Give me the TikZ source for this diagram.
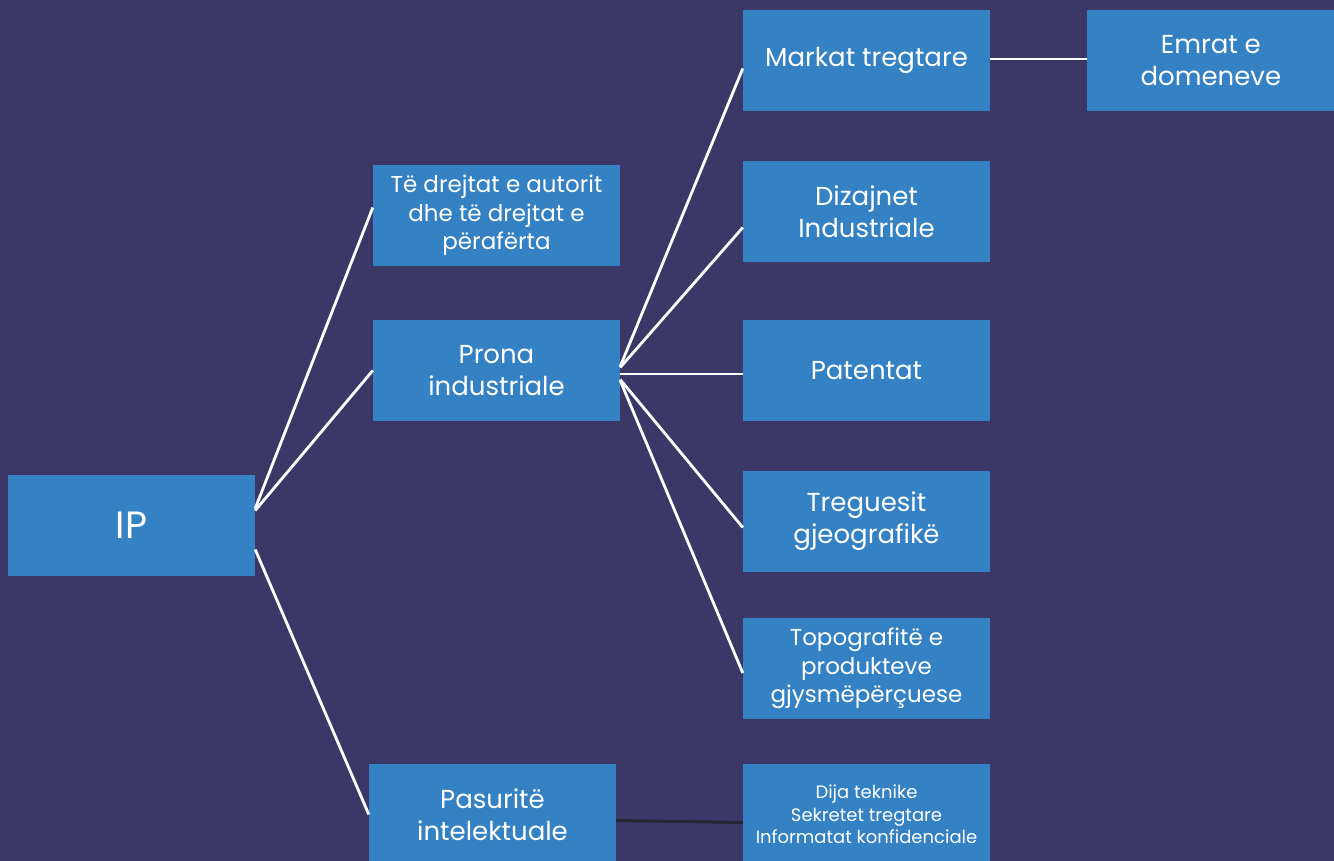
\documentclass[tikz,border=0pt]{standalone}
\usepackage{xcolor}
\usepackage{tikz}
\usepackage{fontspec}
\setmainfont{Poppins}
\usetikzlibrary{
  positioning,
  calc
}
\definecolor{ipBg}{HTML}{3B3868}
\definecolor{ipBox}{HTML}{3481C3}
\definecolor{ipDark}{HTML}{262430}
\tikzset{
  ipnode/.style={
    fill=ipBox, text=white, minimum width=247pt, minimum height=101pt,
    inner sep=0pt, align=center, font=\fontsize{26}{32}\selectfont
  },
  rootbox/.style={ipnode, font=\fontsize{38}{40}\selectfont},
  smallbox/.style={ipnode, font=\fontsize{23}{28.5}\selectfont},
  tinybox/.style={ipnode, font=\fontsize{18}{22.5}\selectfont},
  branch/.style={draw=white, line width=2.8pt},
  darkbranch/.style={draw=ipDark, line width=3pt}
}
\begin{document}
\begin{tikzpicture}[x=1pt, y=-1pt]
  \fill[ipBg] (0,0) rectangle (1334,861);
  \useasboundingbox (0,0) rectangle (1334,861);

  % left
  \node[rootbox] (ip) at (131.5,525.5) {IP};

  % middle column
  \node[smallbox] (drejtat) at (496.5,215.5) {Të drejtat e autorit\\dhe të drejtat e\\përafërta};
  \node[ipnode] (prona) at (496.5,370.5) {Prona\\industriale};
  \node[ipnode] (pasurite) at (492.5,814.5) {Pasuritë\\intelektuale};

  % right column
  \node[ipnode] (markat) at (866.5,60.5) {Markat tregtare};
  \node[ipnode, right=97pt of markat] (emrat) {Emrat e\\domeneve};
  \node[ipnode] (dizajnet) at (866.5,211.5) {Dizajnet\\Industriale};
  \node[ipnode] (patentat) at (866.5,370.5) {Patentat};
  \node[ipnode] (treguesit) at (866.5,521.5) {Treguesit\\gjeografikë};
  \node[smallbox] (topo) at (866.5,668.5) {Topografitë e\\produkteve\\gjysmëpërçuese};
  \node[tinybox] (dija) at (866.5,814.5) {Dija teknike\\Sekretet tregtare\\Informatat konfidenciale};

  % connectors
  \draw[branch] ([yshift=17pt]ip.east) -- ([yshift=8pt]drejtat.west);
  \draw[branch] ([yshift=15pt]ip.east) -- (prona.west);
  \draw[branch] ([yshift=-24pt]ip.east) -- (pasurite.west);

  \draw[branch] ([yshift=4pt]prona.east) -- ([yshift=-8pt]markat.west);
  \draw[branch] ([yshift=3pt]prona.east) -- ([yshift=-16pt]dizajnet.west);
  \draw[branch] ([yshift=-3.5pt]prona.east) -- ([yshift=-3.5pt]patentat.west);
  \draw[branch] ([yshift=-9pt]prona.east) -- ([yshift=-6pt]treguesit.west);
  \draw[branch] ([yshift=-10pt]prona.east) -- ([yshift=-4.5pt]topo.west);

  \draw[branch] ([yshift=1.5pt]markat.east) -- ([yshift=1.5pt]emrat.west);
  \draw[darkbranch] ([yshift=-6pt]pasurite.east) -- ([yshift=-8pt]dija.west);
\end{tikzpicture}
\end{document}
